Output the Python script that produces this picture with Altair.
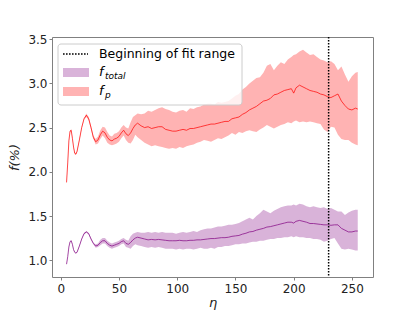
import altair as alt
import pandas as pd

# eta grid (x values)
eta = [5, 6, 7, 8, 9, 10, 11, 12, 13, 14,
       16, 18, 20, 22, 24, 26, 28, 30, 32, 34, 36, 38, 40, 42, 44, 46, 48, 50, 52, 54, 56, 58, 60, 62, 64,
       66, 69, 72, 75, 78, 81, 84, 87, 90, 93,
       96, 99, 102, 105, 108, 111, 114, 117, 120, 123,
       126, 129, 132, 135, 138, 141, 144, 147, 150, 153,
       156, 159, 162, 165, 168, 171, 174, 177, 180, 183,
       186, 189, 192, 195, 198,
       200,
       202, 205, 208, 211, 214, 217, 220, 223, 226, 229, 232, 235, 238, 241, 244, 247, 250, 253,
       255]

# f_p : mean, lower, upper
fp_mean = [1.88, 2.10, 2.35, 2.46, 2.47, 2.38, 2.28, 2.21, 2.20, 2.23,
           2.36, 2.50, 2.60, 2.64, 2.60, 2.50, 2.39, 2.34, 2.36, 2.42, 2.46, 2.44, 2.39, 2.36, 2.35, 2.37, 2.38, 2.40, 2.44, 2.47, 2.43, 2.41, 2.44, 2.49, 2.53,
           2.55, 2.52, 2.50, 2.51, 2.49, 2.50, 2.51, 2.51, 2.48, 2.47,
           2.46, 2.46, 2.47, 2.48, 2.47, 2.49, 2.49, 2.50, 2.51, 2.52,
           2.53, 2.54, 2.54, 2.55, 2.56, 2.57, 2.57, 2.60, 2.61, 2.62,
           2.65, 2.67, 2.70, 2.72, 2.74, 2.77, 2.80, 2.81, 2.83, 2.87,
           2.88, 2.90, 2.92, 2.93, 2.94,
           2.89,
           2.95, 2.98, 2.96, 2.94, 2.92, 2.91, 2.90, 2.88, 2.87, 2.85, 2.84, 2.86, 2.88, 2.80, 2.75, 2.71, 2.70, 2.72,
           2.71]
fp_hi = [1.89, 2.11, 2.36, 2.47, 2.48, 2.39, 2.29, 2.22, 2.21, 2.24,
         2.37, 2.51, 2.61, 2.66, 2.62, 2.52, 2.41, 2.37, 2.40, 2.47, 2.51, 2.50, 2.45, 2.41, 2.40, 2.43, 2.44, 2.46, 2.50, 2.53, 2.50, 2.49, 2.56, 2.62, 2.64,
         2.66, 2.65, 2.66, 2.69, 2.68, 2.70, 2.72, 2.73, 2.71, 2.70,
         2.68, 2.67, 2.69, 2.70, 2.68, 2.72, 2.71, 2.73, 2.74, 2.76,
         2.77, 2.77, 2.76, 2.79, 2.78, 2.79, 2.80, 2.83, 2.86, 2.88,
         2.93, 2.96, 3.00, 3.03, 3.06, 3.07, 3.12, 3.20, 3.22, 3.15,
         3.20, 3.24, 3.22, 3.27, 3.30,
         3.32,
         3.33, 3.36, 3.38, 3.35, 3.32, 3.33, 3.30, 3.27, 3.26, 3.24, 3.25, 3.22, 3.15, 3.19, 3.10, 3.02, 3.08, 3.12,
         3.13]
fp_lo = [1.87, 2.09, 2.34, 2.45, 2.46, 2.37, 2.27, 2.20, 2.19, 2.22,
         2.35, 2.49, 2.59, 2.62, 2.58, 2.48, 2.37, 2.31, 2.32, 2.37, 2.41, 2.38, 2.33, 2.31, 2.30, 2.31, 2.32, 2.34, 2.38, 2.41, 2.36, 2.33, 2.32, 2.36, 2.42,
         2.39, 2.36, 2.33, 2.31, 2.29, 2.30, 2.29, 2.28, 2.27, 2.26,
         2.27, 2.26, 2.28, 2.27, 2.29, 2.30, 2.31, 2.33, 2.34, 2.36,
         2.35, 2.34, 2.36, 2.38, 2.37, 2.39, 2.41, 2.44, 2.42, 2.45,
         2.44, 2.46, 2.47, 2.46, 2.45, 2.48, 2.50, 2.53, 2.51, 2.49,
         2.51, 2.53, 2.54, 2.56, 2.55,
         2.57,
         2.58, 2.56, 2.57, 2.56, 2.57, 2.56, 2.55, 2.54, 2.48, 2.45, 2.51, 2.50, 2.42, 2.37, 2.36, 2.36, 2.33, 2.31,
         2.30]

# f_total : mean, lower, upper
ft_mean = [0.955, 1.04, 1.15, 1.21, 1.22, 1.18, 1.12, 1.09, 1.08, 1.09,
           1.16, 1.24, 1.30, 1.32, 1.30, 1.24, 1.19, 1.16, 1.17, 1.20, 1.22, 1.22, 1.19, 1.17, 1.16, 1.17, 1.18, 1.19, 1.21, 1.22, 1.19, 1.18, 1.20, 1.23, 1.25,
           1.26, 1.25, 1.24, 1.23, 1.235, 1.23, 1.235, 1.23, 1.225, 1.22,
           1.22, 1.22, 1.225, 1.22, 1.22, 1.225, 1.225, 1.23, 1.23, 1.235,
           1.24, 1.245, 1.245, 1.25, 1.255, 1.255, 1.26, 1.27, 1.275, 1.28,
           1.295, 1.305, 1.32, 1.325, 1.34, 1.35, 1.36, 1.375, 1.38, 1.39,
           1.40, 1.41, 1.42, 1.43, 1.43,
           1.42,
           1.44, 1.45, 1.44, 1.43, 1.415, 1.415, 1.41, 1.405, 1.40, 1.40, 1.395, 1.40, 1.40, 1.36, 1.34, 1.32, 1.32, 1.33,
           1.33]
ft_hi = [0.96, 1.045, 1.155, 1.215, 1.225, 1.185, 1.125, 1.095, 1.085, 1.095,
         1.165, 1.245, 1.31, 1.33, 1.31, 1.25, 1.20, 1.18, 1.19, 1.23, 1.25, 1.25, 1.22, 1.20, 1.19, 1.20, 1.21, 1.22, 1.24, 1.25, 1.23, 1.22, 1.27, 1.30, 1.31,
         1.32, 1.31, 1.31, 1.32, 1.31, 1.32, 1.31, 1.32, 1.31, 1.31,
         1.31, 1.30, 1.31, 1.32, 1.31, 1.32, 1.33, 1.32, 1.34, 1.35,
         1.36, 1.36, 1.37, 1.38, 1.38, 1.39, 1.40, 1.40, 1.41, 1.42,
         1.44, 1.46, 1.48, 1.46, 1.50, 1.53, 1.57, 1.55, 1.53, 1.56,
         1.58, 1.60, 1.61, 1.62, 1.62,
         1.63,
         1.62, 1.64, 1.63, 1.61, 1.60, 1.61, 1.60, 1.59, 1.60, 1.58, 1.59, 1.57, 1.55, 1.55, 1.51, 1.54, 1.56, 1.57,
         1.57]
ft_lo = [0.95, 1.035, 1.145, 1.205, 1.215, 1.175, 1.115, 1.085, 1.075, 1.085,
         1.155, 1.235, 1.29, 1.31, 1.29, 1.23, 1.18, 1.14, 1.15, 1.17, 1.19, 1.19, 1.16, 1.14, 1.13, 1.14, 1.15, 1.16, 1.18, 1.19, 1.15, 1.14, 1.13, 1.16, 1.18,
         1.17, 1.16, 1.15, 1.14, 1.15, 1.14, 1.15, 1.14, 1.13, 1.13,
         1.13, 1.12, 1.13, 1.12, 1.13, 1.13, 1.12, 1.13, 1.14, 1.13,
         1.13, 1.14, 1.13, 1.15, 1.15, 1.16, 1.16, 1.17, 1.18, 1.18,
         1.19, 1.19, 1.20, 1.21, 1.21, 1.22, 1.22, 1.23, 1.24, 1.24,
         1.25, 1.25, 1.26, 1.26, 1.27,
         1.26,
         1.27, 1.26, 1.26, 1.25, 1.25, 1.24, 1.24, 1.23, 1.21, 1.22, 1.24, 1.25, 1.19, 1.13, 1.12, 1.13, 1.12, 1.11,
         1.11]

fit_start = [230]
x_ticks = [0, 50, 100, 150, 200, 250]
y_ticks = [1.0, 1.5, 2.0, 2.5, 3.0, 3.5]

df = pd.DataFrame(dict(eta=eta, fp=fp_mean, fp_lo=fp_lo, fp_hi=fp_hi,
                       ft=ft_mean, ft_lo=ft_lo, ft_hi=ft_hi))
df_fit = pd.DataFrame(dict(eta=fit_start))
one = pd.DataFrame(dict(a=[0]))

xs = alt.Scale(domain=[-7.5, 268.1], nice=False, zero=False)
ys = alt.Scale(domain=[0.81, 3.525], nice=False, zero=False)
XAX = alt.Axis(values=x_ticks, title="η", format="d")
YAX = alt.Axis(values=y_ticks, title="f(%)", format=".1f")

def X():
    return alt.X("eta:Q", scale=xs, axis=XAX, title="η")

def Y(field):
    return alt.Y(field + ":Q", scale=ys, axis=YAX, title="f(%)")

PUR_BAND = "#d9b3d9"
RED_BAND = "#ffb3b3"

base = alt.Chart(df)
ft_band = base.mark_area(color=PUR_BAND, opacity=1).encode(x=X(), y=Y("ft_lo"), y2="ft_hi:Q")
ft_line = base.mark_line(color="purple", opacity=0.7, strokeWidth=1).encode(x=X(), y=Y("ft"))
fp_band = base.mark_area(color=RED_BAND, opacity=1).encode(x=X(), y=Y("fp_lo"), y2="fp_hi:Q")
fp_line = base.mark_line(color="red", opacity=0.7, strokeWidth=1).encode(x=X(), y=Y("fp"))
fit_rule = alt.Chart(df_fit).mark_rule(color="black", strokeWidth=1.5, strokeDash=[1.6, 1.4]).encode(x=X())

leg = alt.Chart(one)
leg_box = leg.mark_rect(fill="white", fillOpacity=0.8, stroke="#cccccc", strokeWidth=1, cornerRadius=3).encode(
    x=alt.value(6), x2=alt.value(190), y=alt.value(7), y2=alt.value(68))
leg_rule = leg.mark_rule(color="black", strokeWidth=1.5, strokeDash=[1.6, 1.4]).encode(
    x=alt.value(11), x2=alt.value(36), y=alt.value(17))
leg_p1 = leg.mark_rect(fill=PUR_BAND).encode(x=alt.value(11), x2=alt.value(37), y=alt.value(31), y2=alt.value(40))
leg_p2 = leg.mark_rect(fill=RED_BAND).encode(x=alt.value(11), x2=alt.value(37), y=alt.value(50), y2=alt.value(59))
txt_kw = dict(font="DejaVu Sans", align="left", baseline="middle", color="black")
leg_t1 = leg.mark_text(fontSize=12.5, **txt_kw).encode(
    x=alt.value(47), y=alt.value(17), text=alt.value("Beginning of fit range"))
leg_t2 = leg.mark_text(fontSize=13, fontStyle="italic", **txt_kw).encode(
    x=alt.value(47), y=alt.value(35), text=alt.value("f"))
leg_t2s = leg.mark_text(fontSize=9, fontStyle="italic", **txt_kw).encode(
    x=alt.value(53), y=alt.value(39), text=alt.value("total"))
leg_t3 = leg.mark_text(fontSize=13, fontStyle="italic", **txt_kw).encode(
    x=alt.value(47), y=alt.value(54), text=alt.value("f"))
leg_t3s = leg.mark_text(fontSize=9, fontStyle="italic", **txt_kw).encode(
    x=alt.value(53), y=alt.value(58), text=alt.value("p"))

chart = alt.layer(
    ft_band, ft_line, fp_band, fp_line, fit_rule,
    leg_box, leg_rule, leg_p1, leg_p2, leg_t1, leg_t2, leg_t2s, leg_t3, leg_t3s
).properties(
    width=321, height=240,
    autosize=alt.AutoSizeParams(type="none"),
    padding={"left": 44, "top": 29, "right": 30, "bottom": 34},
).configure_view(
    stroke="#808080", strokeWidth=1
).configure_axis(
    grid=False, domain=False,
    tickColor="#808080", tickSize=3, tickWidth=1,
    labelFont="DejaVu Sans", labelFontSize=12, labelColor="#222222",
    titleFont="DejaVu Sans", titleFontSize=13, titleFontStyle="italic",
    titleFontWeight="normal", titleColor="#222222",
).configure_axisX(
    labelPadding=3, titlePadding=2,
).configure_axisY(
    labelPadding=2, titlePadding=6,
)

chart.save("out.html", embed_options={"renderer": "svg", "actions": False})
